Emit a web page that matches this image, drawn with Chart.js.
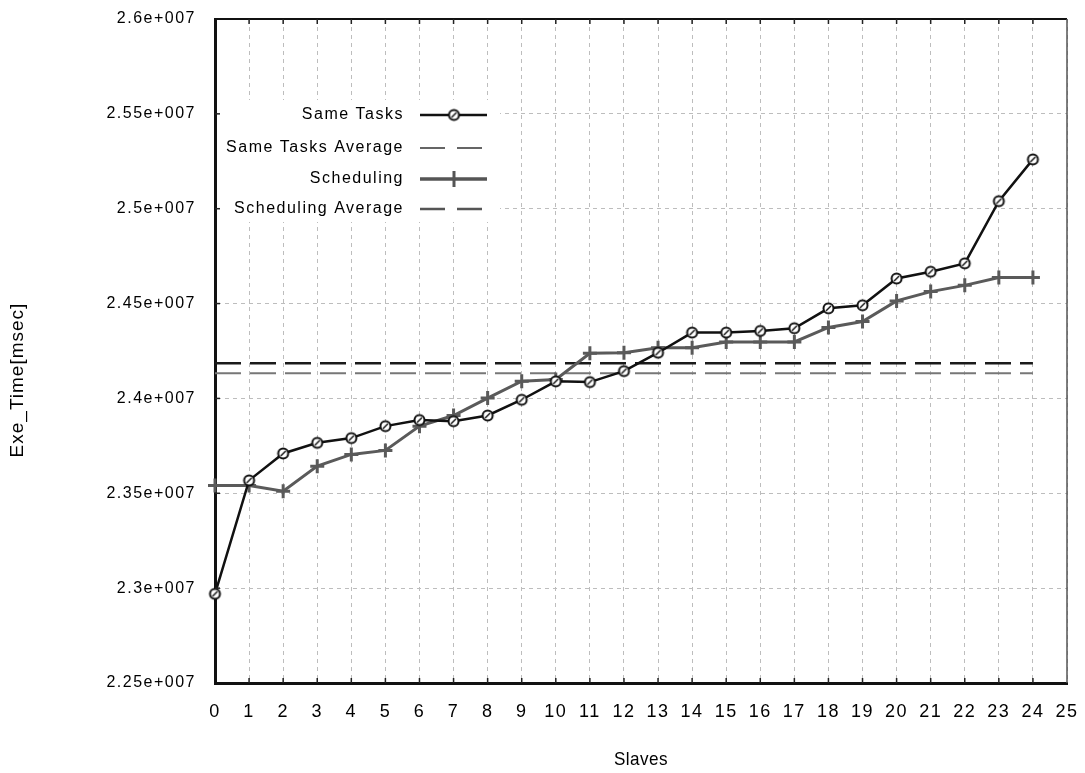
<!DOCTYPE html>
<html>
<head>
<meta charset="utf-8">
<script src="https://cdn.jsdelivr.net/npm/chart.js@4.4.1/dist/chart.umd.min.js"></script>
<style>
  html, body { margin: 0; padding: 0; background: #fff; }
  #wrap { width: 1085px; height: 773px; }
</style>
</head>
<body>
<div id="wrap"><canvas id="chart" width="1085" height="773"></canvas></div>
<script>
// data
const slaves = [0,1,2,3,4,5,6,7,8,9,10,11,12,13,14,15,16,17,18,19,20,21,22,23,24];
const sameTasks = [22970000, 23568000, 23710000, 23766000, 23791000, 23854000, 23886000, 23880000,
  23910000, 23993000, 24090000, 24086000, 24144000, 24241000, 24347000, 24347000, 24356000,
  24370000, 24475000, 24491000, 24632000, 24668000, 24712000, 25040000, 25260000];
const scheduling = [23541000, 23541000, 23511000, 23643000, 23705000, 23726000, 23854000, 23910000,
  24002000, 24091000, 24100000, 24238000, 24241000, 24267000, 24267000, 24297000, 24297000,
  24298000, 24374000, 24405000, 24514000, 24563000, 24596000, 24637000, 24637000];
const sameTasksAvg = [24185000, 24185000];
const schedulingAvg = [24133000, 24133000];
const avgRange = [0, 24];
const xTickLabels = ['0','1','2','3','4','5','6','7','8','9','10','11','12','13','14','15','16','17','18','19','20','21','22','23','24','25'];
const yMin = 22500000, yMax = 26000000, yStep = 500000;
const legendLabels = ['Same Tasks', 'Same Tasks Average', 'Scheduling', 'Scheduling Average'];

const SANS = '"Liberation Sans", Arial, sans-serif';

function toPoints(xs, ys) {
  return ys.map((v, i) => ({ x: xs[i], y: v }));
}

// circle marker with a slash, like the original
function makeRing() {
  const c = document.createElement('canvas');
  c.width = 15; c.height = 15;
  const g = c.getContext('2d');
  g.fillStyle = '#fff';
  g.strokeStyle = '#111';
  g.lineWidth = 2;
  g.beginPath(); g.arc(7.5, 7.5, 5, 0, Math.PI * 2); g.fill(); g.stroke();
  g.lineWidth = 1.5;
  g.beginPath(); g.moveTo(5, 10); g.lineTo(10, 5); g.stroke();
  return c;
}
const ring = makeRing();

// narrow-looking text (no condensed font installed)
function narrowText(ctx, text, x, y, sx) {
  ctx.save();
  ctx.translate(x, y);
  ctx.scale(sx, 1);
  ctx.fillText(text, 0, 0);
  ctx.restore();
}

const frame = {
  id: 'frame',
  beforeUpdate(chart) { chart.ctx.letterSpacing = '1.5px'; },
  beforeDraw(chart) { chart.ctx.letterSpacing = '1.5px'; },
  beforeDatasetsDraw(chart) {
    const { ctx, chartArea: a } = chart;
    ctx.save();
    ctx.fillStyle = '#fff';
    ctx.fillRect(a.left + 3, 100, 282, 122);
    ctx.restore();
  },
  afterDraw(chart) {
    const { ctx, chartArea: a, scales: { x, y } } = chart;
    ctx.save();
    // top + right frame
    ctx.strokeStyle = '#111';
    ctx.lineWidth = 2;
    ctx.beginPath(); ctx.moveTo(a.left, a.top); ctx.lineTo(a.right, a.top); ctx.stroke();
    ctx.strokeStyle = '#555';
    ctx.lineWidth = 1.5;
    ctx.beginPath(); ctx.moveTo(a.right, a.top); ctx.lineTo(a.right, a.bottom); ctx.stroke();

    // small inner ticks
    ctx.strokeStyle = '#222';
    ctx.lineWidth = 1.5;
    for (let i = 1; i < xTickLabels.length - 1; i++) {
      const px = x.getPixelForValue(i);
      ctx.beginPath();
      ctx.moveTo(px, a.bottom); ctx.lineTo(px, a.bottom - 5);
      ctx.moveTo(px, a.top); ctx.lineTo(px, a.top + 5);
      ctx.stroke();
    }
    for (let v = yMin + yStep; v < yMax; v += yStep) {
      const py = y.getPixelForValue(v);
      ctx.beginPath(); ctx.moveTo(a.left, py); ctx.lineTo(a.left + 5, py); ctx.stroke();
    }

    // legend
    ctx.font = '16px ' + SANS;
    ctx.fillStyle = '#000';
    ctx.textAlign = 'right';
    ctx.textBaseline = 'middle';
    const rows = [115, 148, 179, 209];
    const lx1 = 420, lx2 = 487, mx = 454;
    legendLabels.forEach((t, i) => ctx.fillText(t, 404, rows[i]));

    ctx.strokeStyle = '#111'; ctx.lineWidth = 2.5;
    ctx.beginPath(); ctx.moveTo(lx1, rows[0]); ctx.lineTo(lx2, rows[0]); ctx.stroke();
    ctx.drawImage(ring, mx - 7.5, rows[0] - 7.5);

    ctx.strokeStyle = '#333'; ctx.lineWidth = 1.5; ctx.setLineDash([25, 12]);
    ctx.beginPath(); ctx.moveTo(lx1, rows[1]); ctx.lineTo(lx2, rows[1]); ctx.stroke();

    ctx.setLineDash([]);
    ctx.strokeStyle = '#555'; ctx.lineWidth = 3.5;
    ctx.beginPath(); ctx.moveTo(lx1, rows[2]); ctx.lineTo(lx2, rows[2]); ctx.stroke();
    ctx.lineWidth = 3;
    ctx.beginPath(); ctx.moveTo(mx, rows[2] - 8); ctx.lineTo(mx, rows[2] + 8); ctx.stroke();

    ctx.strokeStyle = '#555'; ctx.lineWidth = 2.5; ctx.setLineDash([25, 12]);
    ctx.beginPath(); ctx.moveTo(lx1, rows[3]); ctx.lineTo(lx2, rows[3]); ctx.stroke();
    ctx.setLineDash([]);

    // axis titles
    ctx.font = '19px ' + SANS;
    ctx.textAlign = 'center';
    ctx.letterSpacing = '0.5px';
    narrowText(ctx, 'Slaves', (a.left + a.right) / 2, 760, 0.9);
    ctx.letterSpacing = '1px';
    ctx.translate(18, 380);
    ctx.rotate(-Math.PI / 2);
    narrowText(ctx, 'Exe_Time[msec]', 0, 0, 1);
    ctx.restore();
  }
};

new Chart(document.getElementById('chart'), {
  type: 'line',
  data: {
    datasets: [
      {
        label: legendLabels[0],
        data: toPoints(slaves, sameTasks),
        borderColor: '#111',
        borderWidth: 2.5,
        pointStyle: ring,
        pointRadius: 6,
        tension: 0,
        clip: false
      },
      {
        label: legendLabels[2],
        data: toPoints(slaves, scheduling),
        borderColor: '#5a5a5a',
        borderWidth: 3,
        pointStyle: 'cross',
        pointRadius: 7,
        pointBorderWidth: 3,
        pointBorderColor: '#5a5a5a',
        tension: 0,
        clip: false
      },
      {
        label: legendLabels[1],
        data: toPoints(avgRange, sameTasksAvg),
        borderColor: '#1a1a1a',
        borderWidth: 2.5,
        borderDash: [26, 9],
        pointRadius: 0,
        clip: false
      },
      {
        label: legendLabels[3],
        data: toPoints(avgRange, schedulingAvg),
        borderColor: '#777',
        borderWidth: 2,
        borderDash: [26, 9],
        pointRadius: 0,
        clip: false
      }
    ]
  },
  options: {
    responsive: false,
    animation: false,
    events: [],
    layout: { padding: { top: 19, right: 18, left: 0, bottom: 0 } },
    plugins: {
      legend: { display: false },
      tooltip: { enabled: false }
    },
    scales: {
      x: {
        type: 'linear',
        min: 0,
        max: 25,
        afterFit(s) {
          s.height = 90;
          s.paddingLeft = 0;
          s.paddingRight = 0;
        },
        ticks: {
          stepSize: 1,
          padding: 18,
          color: '#000',
          font: { family: SANS, size: 18 },
          maxRotation: 0,
          autoSkip: false,
          callback: v => xTickLabels[v]
        },
        grid: { color: '#bdbdbd', lineWidth: 1, drawTicks: false },
        border: { color: '#111', width: 3, dash: [4, 4] }
      },
      y: {
        min: yMin,
        max: yMax,
        afterFit(s) {
          s.width = 215;
          s.paddingTop = 0;
          s.paddingBottom = 0;
        },
        ticks: {
          stepSize: yStep,
          padding: 19,
          color: '#000',
          font: { family: SANS, size: 16 },
          callback: v => String(+(v / 1e7).toFixed(3)) + 'e+007'
        },
        grid: { color: '#bdbdbd', lineWidth: 1, drawTicks: false },
        border: { color: '#111', width: 3, dash: [4, 4] }
      }
    }
  },
  plugins: [frame]
});
</script>
</body>
</html>
